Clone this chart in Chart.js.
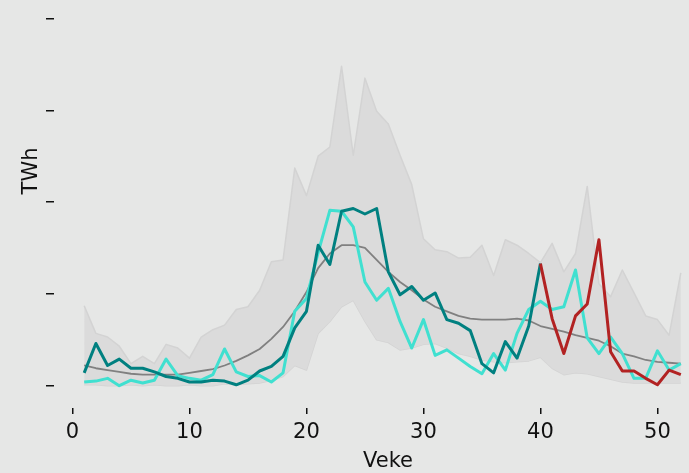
<!DOCTYPE html>
<html>
<head>
<meta charset="utf-8">
<script src="https://cdn.jsdelivr.net/npm/chart.js@4"></script>
<style>
  html, body { margin: 0; padding: 0; background: #e6e7e6; }
  #chart { display: block; }
</style>
</head>
<body>
<canvas id="chart" width="689" height="473"></canvas>
<script>
const weeks = [1, 2, 3, 4, 5, 6, 7, 8, 9, 10, 11, 12, 13, 14, 15, 16, 17, 18, 19, 20, 21, 22, 23, 24, 25, 26,
  27, 28, 29, 30, 31, 32, 33, 34, 35, 36, 37, 38, 39, 40, 41, 42, 43, 44, 45, 46, 47, 48, 49, 50, 51, 52];

// min / max over earlier years
const bandLow = [0.01, 0.01, 0.0, 0.0, 0.01, 0.0, 0.01, 0.0, 0.0, 0.01, 0.0, 0.0, 0.02, 0.01, 0.02, 0.03,
  0.06, 0.1, 0.22, 0.17, 0.57, 0.7, 0.86, 0.93, 0.7, 0.5, 0.47, 0.39, 0.41, 0.45, 0.46, 0.41, 0.35, 0.32,
  0.28, 0.26, 0.25, 0.26, 0.27, 0.31, 0.19, 0.12, 0.14, 0.13, 0.1, 0.07, 0.04, 0.03, 0.03, 0.03, 0.03, 0.03];
const bandHigh = [0.87, 0.57, 0.53, 0.43, 0.24, 0.32, 0.24, 0.45, 0.41, 0.3, 0.53, 0.61, 0.66, 0.83, 0.86,
  1.04, 1.35, 1.37, 2.37, 2.07, 2.5, 2.6, 3.48, 2.51, 3.35, 2.99, 2.85, 2.51, 2.19, 1.6, 1.48, 1.46, 1.39,
  1.4, 1.53, 1.2, 1.59, 1.53, 1.44, 1.34, 1.55, 1.24, 1.44, 2.17, 1.11, 0.97, 1.26, 1.01, 0.76, 0.72, 0.55, 1.23];
const median = [0.22, 0.19, 0.17, 0.15, 0.13, 0.12, 0.12, 0.12, 0.12, 0.14, 0.16, 0.18, 0.22, 0.27, 0.33,
  0.4, 0.51, 0.64, 0.81, 1.02, 1.28, 1.44, 1.53, 1.53, 1.5, 1.37, 1.24, 1.13, 1.04, 0.94, 0.86, 0.81, 0.76,
  0.73, 0.72, 0.72, 0.72, 0.73, 0.71, 0.65, 0.62, 0.59, 0.55, 0.52, 0.49, 0.43, 0.35, 0.32, 0.28, 0.26, 0.25, 0.24];
const lastYear = [0.04, 0.05, 0.08, 0.0, 0.06, 0.03, 0.06, 0.29, 0.11, 0.08, 0.06, 0.12, 0.4, 0.15, 0.1,
  0.11, 0.04, 0.14, 0.81, 0.95, 1.45, 1.91, 1.9, 1.73, 1.13, 0.93, 1.06, 0.7, 0.41, 0.72, 0.33, 0.39, 0.3,
  0.21, 0.13, 0.35, 0.17, 0.57, 0.83, 0.92, 0.83, 0.86, 1.26, 0.52, 0.35, 0.53, 0.35, 0.08, 0.08, 0.38, 0.17, 0.24];
const thisYear = [0.14, 0.46, 0.22, 0.29, 0.19, 0.19, 0.15, 0.1, 0.08, 0.04, 0.04, 0.06, 0.05, 0.01, 0.06,
  0.16, 0.21, 0.32, 0.63, 0.81, 1.53, 1.32, 1.9, 1.93, 1.87, 1.93, 1.24, 0.99, 1.08, 0.93, 1.01, 0.72, 0.68,
  0.6, 0.24, 0.14, 0.48, 0.3, 0.65, 1.33];
const forecastWeeks = [40, 41, 42, 43, 44, 45, 46, 47, 48, 49, 50, 51, 52];
const forecast = [1.33, 0.73, 0.35, 0.76, 0.89, 1.59, 0.37, 0.16, 0.16, 0.08, 0.01, 0.17, 0.12];

const xTicks = [0, 10, 20, 30, 40, 50];
const yTicks = [0, 1, 2, 3, 4];

const pts = (xs, ys) => ys.map((y, i) => ({ x: xs[i], y: y }));

const lineStyle = {
  pointRadius: 0,
  tension: 0,
  borderJoinStyle: "round",
  fill: false,
};

const font = { family: "DejaVu Sans", size: 21 };

// axis titles sit off-centre in the original, so draw them here
const axisTitles = {
  id: "axisTitles",
  afterDraw(chart) {
    const { ctx } = chart;
    ctx.save();
    ctx.fillStyle = "#111";
    ctx.font = "21px 'DejaVu Sans'";
    ctx.textAlign = "center";
    ctx.textBaseline = "middle";
    ctx.fillText("Veke", 388, 462);
    ctx.translate(32, 171);
    ctx.rotate(-Math.PI / 2);
    ctx.fillText("TWh", 0, 0);
    ctx.restore();
  },
};

const ctx = document.getElementById("chart").getContext("2d");
const chart = new Chart(ctx, {
  type: "line",
  data: {
    datasets: [
      {
        ...lineStyle,
        label: "Min",
        data: pts(weeks, bandLow),
        borderColor: "#d3d3d3",
        borderWidth: 1.5,
        order: 6,
      },
      {
        ...lineStyle,
        label: "Max",
        data: pts(weeks, bandHigh),
        borderColor: "#d3d3d3",
        borderWidth: 1.5,
        backgroundColor: "#dbdbdb",
        fill: "-1",
        order: 5,
      },
      {
        ...lineStyle,
        label: "Median",
        data: pts(weeks, median),
        borderColor: "#808080",
        borderWidth: 1.8,
        order: 4,
      },
      {
        ...lineStyle,
        label: "I fjor",
        data: pts(weeks, lastYear),
        borderColor: "#40e0d0",
        borderWidth: 3,
        order: 3,
      },
      {
        ...lineStyle,
        label: "I år",
        data: pts(weeks, thisYear),
        borderColor: "#008080",
        borderWidth: 3,
        order: 2,
      },
      {
        ...lineStyle,
        label: "Prognose",
        data: pts(forecastWeeks, forecast),
        borderColor: "#b22222",
        borderWidth: 3,
        order: 1,
      },
    ],
  },
  options: {
    responsive: false,
    animation: false,
    devicePixelRatio: 1,
    layout: {
      padding: 0,
    },
    plugins: {
      legend: { display: false },
      tooltip: { enabled: false },
    },
    scales: {
      x: {
        type: "linear",
        min: -1.58,
        max: 52.7,
        afterBuildTicks: (scale) => {
          scale.ticks = xTicks.map((v) => ({ value: v }));
        },
        afterFit: (scale) => {
          scale.height = 65;
        },
        border: { display: false },
        grid: {
          drawOnChartArea: false,
          drawTicks: true,
          tickLength: 6,
          color: "#111",
          lineWidth: 1.5,
        },
        ticks: {
          autoSkip: false,
          maxRotation: 0,
          padding: 6,
          color: "#111",
          font: font,
        },
      },
      y: {
        min: -0.243,
        max: 4.201,
        afterBuildTicks: (scale) => {
          scale.ticks = yTicks.map((v) => ({ value: v }));
        },
        afterFit: (scale) => {
          scale.width = 54;
        },
        border: { display: false },
        grid: {
          drawOnChartArea: false,
          drawTicks: true,
          tickLength: 8,
          color: "#111",
          lineWidth: 1.5,
        },
        ticks: {
          display: false,
        },
      },
    },
  },
  plugins: [axisTitles],
});
</script>
</body>
</html>
